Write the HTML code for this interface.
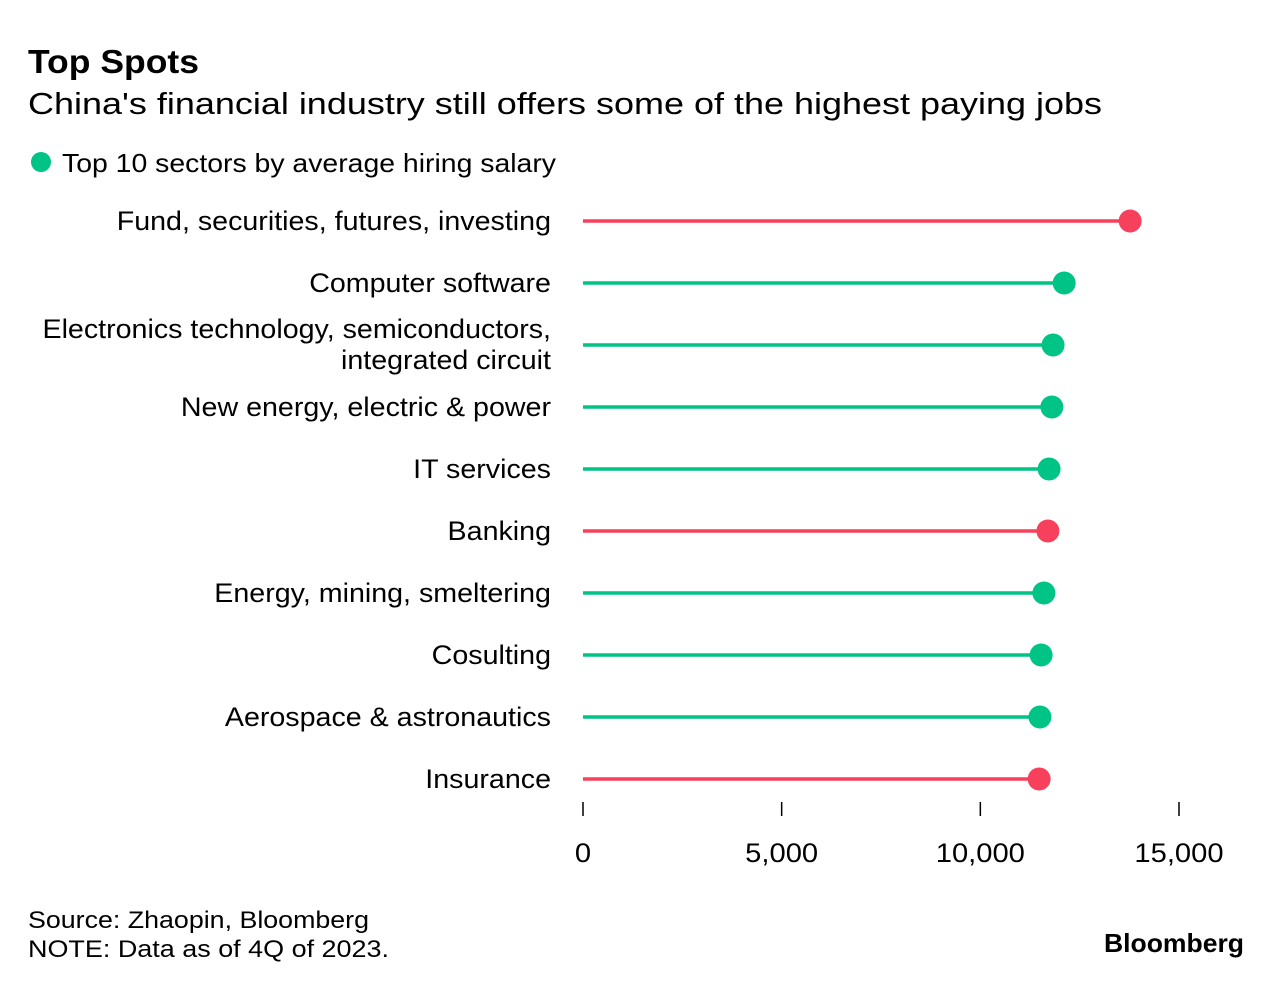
<!DOCTYPE html>
<html><head><meta charset="utf-8"><style>
body{margin:0;background:#fff}
svg{display:block;font-family:"Liberation Sans",Arial,sans-serif}
</style></head><body>
<svg width="1283" height="988" viewBox="0 0 1283 988" id="chart">
<text x="28" y="73" font-size="33" font-weight="bold" fill="#000" textLength="171" lengthAdjust="spacingAndGlyphs">Top Spots</text>
<text x="28" y="114" font-size="31" fill="#000" textLength="1074" lengthAdjust="spacingAndGlyphs">China's financial industry still offers some of the highest paying jobs</text>
<circle cx="41" cy="162" r="10" fill="#00c386"/>
<text x="62" y="172" font-size="26" fill="#000" textLength="494" lengthAdjust="spacingAndGlyphs">Top 10 sectors by average hiring salary</text>
<g id="plot"></g>
<text x="28" y="928" font-size="24" fill="#000" textLength="341" lengthAdjust="spacingAndGlyphs">Source: Zhaopin, Bloomberg</text>
<text x="28" y="957" font-size="24" fill="#000" textLength="361" lengthAdjust="spacingAndGlyphs">NOTE: Data as of 4Q of 2023.</text>
<text x="1244" y="952" font-size="26" font-weight="bold" fill="#000" text-anchor="end" textLength="140" lengthAdjust="spacingAndGlyphs">Bloomberg</text>
</svg>
<script>
const categories = [["Fund, securities, futures, investing"],["Computer software"],["Electronics technology, semiconductors,","integrated circuit"],["New energy, electric & power"],["IT services"],["Banking"],["Energy, mining, smeltering"],["Cosulting"],["Aerospace & astronautics"],["Insurance"]];
const values = [13770, 12110, 11830, 11800, 11730, 11700, 11600, 11530, 11500, 11480];
const isFinance = [true,false,false,false,false,true,false,false,false,true];
const ticks = [0, 5000, 10000, 15000];
const tickLabels = ["0","5,000","10,000","15,000"];
const NS = "http://www.w3.org/2000/svg";
const g = document.getElementById('plot');
const x = v => 583 + v * (1179 - 583) / 15000;
const y = i => 221 + i * 62;
function mk(t, a, p) { const e = document.createElementNS(NS, t); for (const k in a) e.setAttribute(k, a[k]); p.appendChild(e); return e; }
function widen(t, f) { const w = t.getComputedTextLength(); t.setAttribute('textLength', w * f); t.setAttribute('lengthAdjust', 'spacingAndGlyphs'); }
categories.forEach((lab, i) => {
  const col = isFinance[i] ? "#f6405c" : "#00c386";
  const ln = mk('line', {x1: x(0), x2: x(values[i]), y1: y(i), y2: y(i), stroke: col, 'stroke-width': 3.5}, g);
  
  
  const c = mk('circle', {cx: x(values[i]), cy: y(i), r: 11.5, fill: col}, g);
  
  
  lab.forEach((s, j) => {
    const yy = lab.length === 1 ? y(i) + 9 : y(i) - 16 + j * 31 + 9;
    const t = mk('text', {x: 551, y: yy, 'font-size': 26.5, 'text-anchor': 'end', fill: '#000'}, g);
    t.textContent = s;
    
    
    widen(t, 1.08);
  });
});
ticks.forEach((v, i) => {
  const tk = mk('line', {x1: x(v), x2: x(v), y1: 802, y2: 816, stroke: '#000', 'stroke-width': 1.5}, g);
  
  
  const t = mk('text', {x: x(v), y: 862, 'font-size': 26.5, 'text-anchor': 'middle', fill: '#000'}, g);
  t.textContent = tickLabels[i];
  
  
  widen(t, 1.1);
});
</script>
</body></html>
